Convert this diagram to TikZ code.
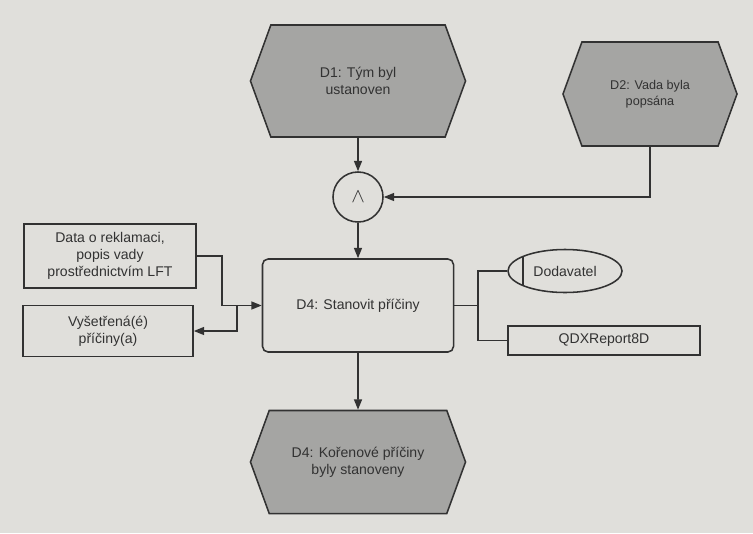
\documentclass[tikz,border=0pt]{standalone}
\usepackage{fontspec}
\setmainfont{Liberation Sans}
\usepackage{tikz}
\usetikzlibrary{positioning, arrows.meta, shapes.geometric, shapes.symbols, calc}
\definecolor{paper}{RGB}{224,223,219}
\definecolor{evgray}{RGB}{165,165,163}
\definecolor{ink}{RGB}{50,50,50}

\begin{document}
\begin{tikzpicture}[
    x=0.025cm, y=-0.025cm,
    every node/.style={font=\fontsize{10}{12}\selectfont, text=ink},
    event/.style={draw=ink, line width=1.1pt, fill=evgray, shape=signal, signal to=west and east, signal pointer angle=140, minimum width=5.375cm, minimum height=2.8cm, align=center, inner sep=1pt},
    func/.style={draw=ink, line width=1.1pt, rounded corners=4pt, minimum width=4.775cm, minimum height=2.325cm, align=center},
    infobox/.style={draw=ink, line width=1.1pt, align=center, inner sep=1pt},
    orgunit/.style={draw=ink, line width=1.1pt, ellipse, minimum width=2.85cm, minimum height=1.075cm},
    arrow/.style={-{Triangle[length=2.6mm, width=2mm]}, line width=1.1pt, draw=ink},
    link/.style={line width=1.1pt, draw=ink}
]
\fill[paper] (0,0) rectangle (753,533);

\node[event] (d1) at (358,81) {D1: Tým byl\\ustanoven};
\node[event, minimum width=4.35cm, minimum height=2.6cm, font=\fontsize{9}{11}\selectfont] (d2) at (650,94) {D2: Vada byla\\popsána};
\node[draw=ink, line width=1.1pt, circle, minimum size=1.25cm, inner sep=0pt] (and) at (358,197) {\Large$\wedge$};
\node[func] (fn) at (358,305.5) {D4: Stanovit příčiny};
\node[event, minimum height=2.575cm] (d4) at (358,462) {D4: Kořenové příčiny\\byly stanoveny};

\node[infobox, minimum width=4.3cm, minimum height=1.6cm] (data) at (110,256) {Data o reklamaci,\\popis vady\\prostřednictvím LFT};
\node[infobox, minimum width=4.25cm, minimum height=1.275cm] (vys) at (108,331) {Vyšetřená(é)\\příčiny(a)};
\node[orgunit] (dod) at (565,271) {Dodavatel};
\node[infobox, minimum width=4.8cm, minimum height=0.725cm] (qdx) at (604,340.5) {QDXReport8D};

\coordinate (j1) at (222,305.5);
\coordinate (j2) at (237,305.5);
\coordinate (j3) at (478,305.5);

\draw[arrow] (d1) -- (and);
\draw[arrow] (d2.south) |- (and.east);
\draw[arrow] (and) -- (fn);
\draw[arrow] (fn) -- (d4);
\draw[arrow] (data.east) -| (j1) -- (fn.west);
\draw[arrow] (j2) |- (vys.east);
\draw[link] (fn.east) -- (j3);
\draw[link] (j3) |- (dod.west);
\draw[link] (j3) |- (qdx.west);
\draw[link] ($(dod.center)+(-42,-14.5)$) -- ($(dod.center)+(-42,14.5)$);
\end{tikzpicture}
\end{document}
